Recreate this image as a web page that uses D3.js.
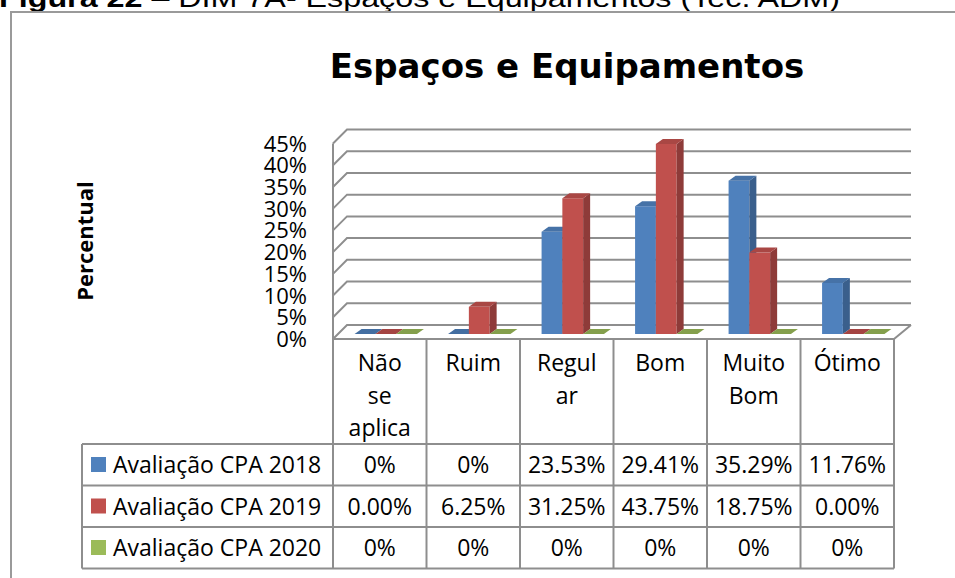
<!DOCTYPE html>
<html>
<head>
<meta charset="utf-8">
<script src="https://cdn.jsdelivr.net/npm/d3@7"></script>
<style>
  html, body { margin: 0; padding: 0; background: #fff; }
  svg { display: block; }
</style>
</head>
<body>
<div id="chart"></div>
<script>
// data
const categories = ['Não se aplica', 'Ruim', 'Regular', 'Bom', 'Muito Bom', 'Ótimo'];
const headerLines = [['Não', 'se', 'aplica'], ['Ruim'], ['Regul', 'ar'], ['Bom'], ['Muito', 'Bom'], ['Ótimo']];
const seriesNames = ['Avaliação CPA 2018', 'Avaliação CPA 2019', 'Avaliação CPA 2020'];
const values2018 = [0, 0, 23.53, 29.41, 35.29, 11.76];
const values2019 = [0, 6.25, 31.25, 43.75, 18.75, 0];
const values2020 = [0, 0, 0, 0, 0, 0];
const labels2018 = ['0%', '0%', '23.53%', '29.41%', '35.29%', '11.76%'];
const labels2019 = ['0.00%', '6.25%', '31.25%', '43.75%', '18.75%', '0.00%'];
const labels2020 = ['0%', '0%', '0%', '0%', '0%', '0%'];
const seriesColors = ['#4F81BD', '#C0504D', '#9BBB59'];
const yTicks = [0, 5, 10, 15, 20, 25, 30, 35, 40, 45];

const seriesValues = [values2018, values2019, values2020];
const seriesLabels = [labels2018, labels2019, labels2020];

const W = 955, H = 578;
const gridColor = '#8e8e8e';
const font = '"Open Sans", "DejaVu Sans", sans-serif';

const svg = d3.select('#chart')
    .append('svg')
    .attr('width', W)
    .attr('height', H);

svg.append('rect').attr('width', W).attr('height', H).attr('fill', '#fff');

// caption cut off at the top of the page
const cap = svg.append('text')
    .attr('x', -1)
    .attr('y', 7)
    .attr('font-family', '"Liberation Sans", Arial, sans-serif')
    .attr('font-size', 26)
    .attr('textLength', 841)
    .attr('lengthAdjust', 'spacingAndGlyphs')
    .attr('fill', '#000');
cap.append('tspan').attr('font-weight', 'bold').text('Figura 22');
cap.append('tspan').text(' – DIM 7A- Espaços e Equipamentos (Tec. ADM)');

// outer frame
svg.append('path')
    .attr('d', `M11,${H} V12 H${W}`)
    .attr('fill', 'none')
    .attr('stroke', '#9a9a9a')
    .attr('stroke-width', 2);

// chart title
svg.append('text')
    .attr('x', 567)
    .attr('y', 78)
    .attr('text-anchor', 'middle')
    .attr('font-family', '"DejaVu Sans", sans-serif')
    .attr('font-weight', 'bold')
    .attr('font-size', 34)
    .text('Espaços e Equipamentos');

// axis title
svg.append('text')
    .attr('transform', 'translate(93,241) rotate(-90)')
    .attr('text-anchor', 'middle')
    .attr('font-family', font)
    .attr('font-weight', 'bold')
    .attr('font-size', 22)
    .text('Percentual');

// 3d geometry: front plane, back wall and the plane the bars stand on
const front = { left: 333, right: 894, base: 339 };
const back = { left: 347, right: 911, base: 325 };
const barOff = { dx: 6, dy: -5 };
const barDepth = { dx: 7, dy: -5 };

const h = d3.scaleLinear().domain([0, 45]).range([0, 195.5]);
const x = d3.scaleBand().domain(categories).range([front.left, front.right]);
const xs = d3.scaleBand().domain(seriesNames).range([0, x.bandwidth()]).paddingOuter(0.75);

const grid = svg.append('g')
    .attr('fill', 'none')
    .attr('stroke', gridColor)
    .attr('stroke-width', 2);

// side wall + back wall gridlines
yTicks.forEach(t => {
  grid.append('path')
      .attr('d', `M${front.left},${front.base - h(t)} L${back.left},${back.base - h(t)} H${back.right}`);
});
grid.append('line')
    .attr('x1', front.left).attr('x2', front.left)
    .attr('y1', front.base).attr('y2', front.base - h(45));
// floor
grid.append('path')
    .attr('d', `M${front.left},${front.base} H${front.right} L${back.right},${back.base}`);

// y tick labels
svg.append('g')
    .attr('font-family', font)
    .attr('font-size', 22)
    .attr('text-anchor', 'end')
    .selectAll('text')
    .data(yTicks)
    .join('text')
    .attr('x', 307)
    .attr('y', d => front.base - h(d) + 8)
    .text(d => d + '%');

// bars
const bars = svg.append('g');
categories.forEach((c, i) => {
  seriesNames.forEach((s, j) => {
    const v = seriesValues[j][i];
    const col = d3.color(seriesColors[j]);
    const x0 = x(c) + xs(s) + barOff.dx;
    const w = xs.bandwidth();
    const yb = front.base + barOff.dy;
    const yt = yb - h(v);
    const top = [[x0, yt], [x0 + w, yt], [x0 + w + barDepth.dx, yt + barDepth.dy], [x0 + barDepth.dx, yt + barDepth.dy]];
    if (v > 0) {
      bars.append('rect')
          .attr('x', x0).attr('y', yt)
          .attr('width', w).attr('height', yb - yt)
          .attr('fill', col.formatHex());
      bars.append('polygon')
          .attr('points', [[x0 + w, yt], [x0 + w + barDepth.dx, yt + barDepth.dy],
                           [x0 + w + barDepth.dx, yb + barDepth.dy], [x0 + w, yb]].join(' '))
          .attr('fill', col.darker(0.85).formatHex());
    }
    bars.append('polygon')
        .attr('points', top.join(' '))
        .attr('fill', col.darker(v > 0 ? 0.35 : 0.45).formatHex());
  });
});

// data table
const table = svg.append('g');
const tableLeft = 82;
const rowY = [444, 485.5, 527, 568.5];
const colX = categories.map(c => x(c)).concat([front.right]);

const tl = table.append('g')
    .attr('fill', 'none')
    .attr('stroke', gridColor)
    .attr('stroke-width', 2);
colX.forEach(cx => {
  tl.append('line').attr('x1', cx).attr('x2', cx).attr('y1', front.base).attr('y2', rowY[3]);
});
rowY.forEach(ry => {
  tl.append('line').attr('x1', tableLeft).attr('x2', front.right).attr('y1', ry).attr('y2', ry);
});
tl.append('line').attr('x1', tableLeft).attr('x2', tableLeft).attr('y1', rowY[0]).attr('y2', rowY[3]);

const tt = table.append('g')
    .attr('font-family', font)
    .attr('font-size', 23)
    .attr('fill', '#000');

// header: category names, wrapped
categories.forEach((c, i) => {
  headerLines[i].forEach((line, k) => {
    tt.append('text')
        .attr('x', x(c) + x.bandwidth() / 2)
        .attr('y', 371 + k * 32.5)
        .attr('text-anchor', 'middle')
        .text(line);
  });
});

// rows: legend key + values
seriesNames.forEach((s, j) => {
  const base = rowY[j] + 29;
  tt.append('rect')
      .attr('x', 91).attr('y', base - 16)
      .attr('width', 15).attr('height', 15)
      .attr('fill', seriesColors[j]);
  tt.append('text')
      .attr('x', 113).attr('y', base)
      .text(s);
  categories.forEach((c, i) => {
    tt.append('text')
        .attr('x', x(c) + x.bandwidth() / 2)
        .attr('y', base)
        .attr('text-anchor', 'middle')
        .text(seriesLabels[j][i]);
  });
});
</script>
</body>
</html>
